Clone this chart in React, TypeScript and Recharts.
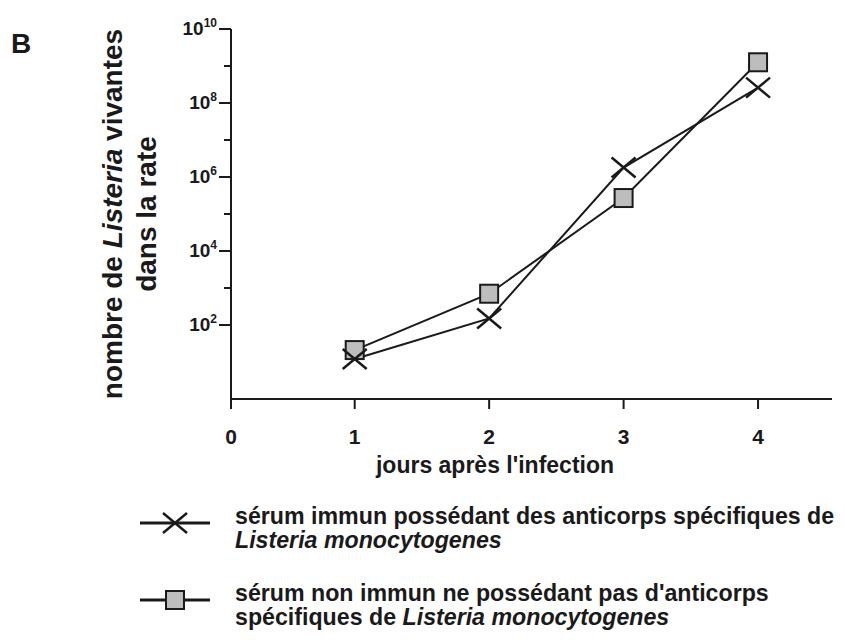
import React from "react";
import { LineChart, Line, XAxis, YAxis } from "recharts";

// jours après l'infection
const days = [1, 2, 3, 4];
// nombre de Listeria vivantes (échelle log)
const immuneSerum = [12, 150, 1.8e6, 2.6e8];
const nonImmuneSerum = [21, 700, 2.7e5, 1.26e9];

const xTicks = [0.08, 1, 2, 3, 4];
const yTicks = [1e2, 1e3, 1e4, 1e5, 1e6, 1e7, 1e8, 1e9, 1e10];

const INK = "#1a1a1a";
const SQUARE_FILL = "#bdbdbd";
const FONT = "'Liberation Sans', Arial, sans-serif";

const data = days.map((d, i) => ({
  day: d,
  immune: immuneSerum[i],
  nonImmune: nonImmuneSerum[i],
}));

function CrossDot({ cx, cy }: any) {
  if (cx == null || cy == null) return null;
  return (
    <g stroke={INK} strokeWidth={2.5}>
      <line x1={cx - 12} y1={cy - 10} x2={cx + 12} y2={cy + 10} />
      <line x1={cx - 12} y1={cy + 10} x2={cx + 12} y2={cy - 10} />
    </g>
  );
}

function SquareDot({ cx, cy }: any) {
  if (cx == null || cy == null) return null;
  return (
    <rect x={cx - 9} y={cy - 9} width={18} height={18} fill={SQUARE_FILL} stroke={INK} strokeWidth={2} />
  );
}

function XTick({ x, y, payload }: any) {
  return (
    <text x={x} y={y + 33} textAnchor="middle" fontFamily={FONT} fontWeight="bold" fontSize={21} fill={INK}>
      {Math.round(payload.value)}
    </text>
  );
}

function YTick({ x, y, payload }: any) {
  const exp = Math.round(Math.log10(payload.value));
  const major = exp % 2 === 0;
  return (
    <g>
      <line x1={x - (major ? 12 : 7)} y1={y} x2={x} y2={y} stroke={INK} strokeWidth={2} />
      {major && (
        <text
          x={x - 14}
          y={y + 6}
          textAnchor="end"
          fill={INK}
          style={{ fontFamily: FONT, fontWeight: "bold", fontSize: 19 }}
        >
          <tspan>10</tspan>
          <tspan dy={-8} style={{ fontSize: 12 }}>
            {exp}
          </tspan>
        </text>
      )}
    </g>
  );
}

const textStyle: React.CSSProperties = {
  position: "absolute",
  fontFamily: FONT,
  fontWeight: "bold",
  color: INK,
  whiteSpace: "nowrap",
};

function LegendRow({ top, marker, lines }: { top: number; marker: "cross" | "square"; lines: React.ReactNode[] }) {
  return (
    <>
      <svg style={{ position: "absolute", left: 135, top: top - 2, overflow: "visible" }} width={80} height={40}>
        <line x1={5} y1={20} x2={75} y2={20} stroke={INK} strokeWidth={3} />
        {marker === "cross" ? <CrossDot cx={40} cy={20} /> : <SquareDot cx={40} cy={20} />}
      </svg>
      <div style={{ ...textStyle, left: 235, top: top - 1, fontSize: 23.2, lineHeight: "24px" }}>
        {lines.map((l, i) => (
          <div key={i}>{l}</div>
        ))}
      </div>
    </>
  );
}

export default function App() {
  return (
    <div style={{ position: "absolute", left: 0, top: 0, width: 845, height: 640, background: "#fff" }}>
      <LineChart width={845} height={640} data={data} margin={{ top: 29, right: 13, bottom: 0, left: 0 }}>
        <XAxis
          dataKey="day"
          type="number"
          domain={[0.08, 4.55]}
          ticks={xTicks}
          allowDataOverflow
          height={241}
          tickSize={10}
          stroke={INK}
          strokeWidth={2}
          tick={<XTick />}
        />
        <YAxis
          type="number"
          scale="log"
          domain={[1, 1e10]}
          ticks={yTicks}
          allowDataOverflow
          width={231}
          tickLine={false}
          tickSize={0}
          tickMargin={0}
          stroke={INK}
          strokeWidth={2}
          tick={<YTick />}
          interval={0}
        />
        <Line
          dataKey="nonImmune"
          stroke={INK}
          strokeWidth={2}
          dot={<SquareDot />}
          activeDot={false}
          isAnimationActive={false}
        />
        <Line
          dataKey="immune"
          stroke={INK}
          strokeWidth={2}
          dot={<CrossDot />}
          activeDot={false}
          isAnimationActive={false}
        />
      </LineChart>

      <div style={{ ...textStyle, left: 11, top: 28, fontSize: 28 }}>B</div>

      <div
        style={{
          ...textStyle,
          left: 130,
          top: 214,
          fontSize: 28,
          lineHeight: "34px",
          textAlign: "center",
          transform: "translate(-50%, -50%) rotate(-90deg)",
        }}
      >
        <div>
          nombre de <i>Listeria</i> vivantes
        </div>
        <div>dans la rate</div>
      </div>

      <div style={{ ...textStyle, left: 495, top: 465, fontSize: 23, transform: "translate(-50%, -50%)" }}>
        jours après l'infection
      </div>

      <LegendRow
        top={505}
        marker="cross"
        lines={[
          "sérum immun possédant des anticorps spécifiques de",
          <i key="a">Listeria monocytogenes</i>,
        ]}
      />
      <LegendRow
        top={582}
        marker="square"
        lines={[
          "sérum non immun ne possédant pas d'anticorps",
          <span key="b">
            spécifiques de <i>Listeria monocytogenes</i>
          </span>,
        ]}
      />
    </div>
  );
}
